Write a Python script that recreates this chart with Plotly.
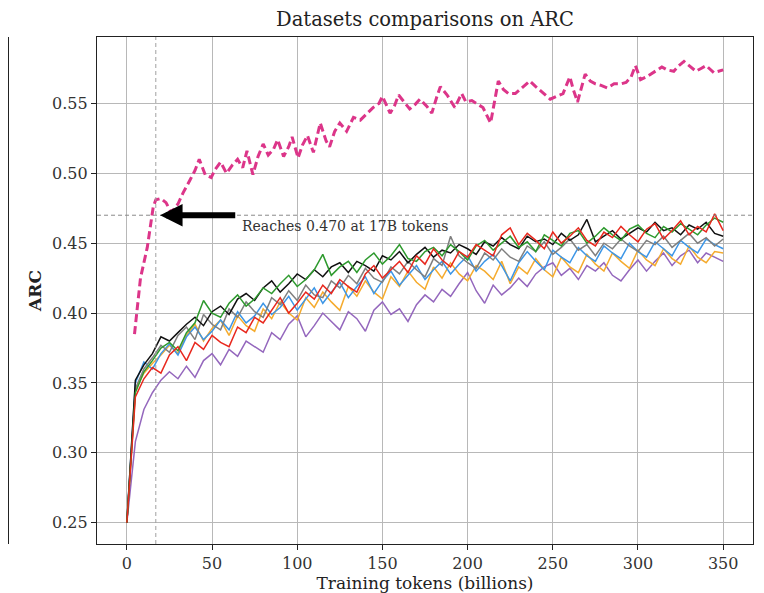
import plotly.graph_objects as go

# Evaluation points (billions of tokens) for the seven baseline runs
tokens = list(range(0, 351, 5))

arc_black = [0.250, 0.352, 0.363, 0.371, 0.383, 0.380, 0.386, 0.392, 0.397, 0.391, 0.401, 0.405, 0.399, 0.410, 0.414,
             0.409, 0.418, 0.423, 0.415, 0.421, 0.428, 0.424, 0.431, 0.426, 0.433, 0.436, 0.429, 0.437, 0.434, 0.430,
             0.441, 0.438, 0.444, 0.436, 0.442, 0.447, 0.440, 0.445, 0.443, 0.449, 0.446, 0.442, 0.451, 0.448, 0.454,
             0.449, 0.446, 0.455, 0.451, 0.453, 0.449, 0.457, 0.452, 0.456, 0.467, 0.451, 0.455, 0.459, 0.453, 0.457,
             0.461, 0.458, 0.465, 0.459, 0.461, 0.456, 0.463, 0.460, 0.465, 0.457, 0.455]
arc_green = [0.250, 0.343, 0.358, 0.366, 0.375, 0.379, 0.373, 0.386, 0.393, 0.409, 0.400, 0.397, 0.407, 0.413, 0.405,
             0.410, 0.418, 0.414, 0.421, 0.427, 0.419, 0.424, 0.431, 0.442, 0.427, 0.433, 0.437, 0.429, 0.438, 0.443,
             0.435, 0.441, 0.449, 0.439, 0.437, 0.444, 0.447, 0.441, 0.449, 0.444, 0.438, 0.448, 0.452, 0.445, 0.450,
             0.455, 0.447, 0.451, 0.444, 0.456, 0.452, 0.448, 0.457, 0.459, 0.450, 0.455, 0.461, 0.456, 0.452, 0.460,
             0.463, 0.457, 0.454, 0.462, 0.458, 0.464, 0.460, 0.456, 0.463, 0.468, 0.465]
arc_red = [0.250, 0.340, 0.353, 0.361, 0.357, 0.370, 0.376, 0.366, 0.379, 0.374, 0.384, 0.379, 0.376, 0.390, 0.386,
           0.397, 0.393, 0.402, 0.411, 0.400, 0.407, 0.415, 0.410, 0.420, 0.414, 0.424, 0.419, 0.415, 0.428, 0.434,
           0.425, 0.431, 0.437, 0.429, 0.441, 0.435, 0.446, 0.438, 0.433, 0.444, 0.440, 0.449, 0.445, 0.441, 0.456,
           0.461, 0.449, 0.457, 0.452, 0.446, 0.458, 0.450, 0.455, 0.461, 0.452, 0.448, 0.458, 0.454, 0.462, 0.456,
           0.451, 0.460, 0.464, 0.453, 0.459, 0.466, 0.456, 0.462, 0.458, 0.471, 0.459]
arc_gray = [0.250, 0.346, 0.360, 0.368, 0.377, 0.372, 0.384, 0.390, 0.381, 0.399, 0.392, 0.388, 0.403, 0.397, 0.408,
            0.401, 0.397, 0.411, 0.406, 0.416, 0.409, 0.420, 0.413, 0.411, 0.423, 0.418, 0.427, 0.421, 0.432, 0.425,
            0.422, 0.433, 0.428, 0.437, 0.431, 0.426, 0.439, 0.434, 0.455, 0.441, 0.436, 0.432, 0.443, 0.438, 0.446,
            0.440, 0.437, 0.448, 0.444, 0.451, 0.442, 0.447, 0.453, 0.445, 0.449, 0.441, 0.450, 0.446, 0.453, 0.448,
            0.444, 0.452, 0.449, 0.455, 0.447, 0.452, 0.457, 0.450, 0.454, 0.448, 0.453]
arc_blue = [0.250, 0.350, 0.365, 0.360, 0.371, 0.378, 0.370, 0.383, 0.390, 0.381, 0.387, 0.395, 0.388, 0.401, 0.393,
            0.398, 0.407, 0.399, 0.404, 0.412, 0.402, 0.410, 0.418, 0.407, 0.415, 0.422, 0.411, 0.419, 0.426, 0.414,
            0.423, 0.430, 0.420, 0.427, 0.434, 0.424, 0.431, 0.437, 0.428, 0.435, 0.441, 0.430, 0.437, 0.442, 0.434,
            0.423, 0.436, 0.444, 0.437, 0.431, 0.445, 0.440, 0.436, 0.447, 0.441, 0.437, 0.448, 0.443, 0.439, 0.450,
            0.444, 0.440, 0.451, 0.446, 0.441, 0.452, 0.447, 0.443, 0.453, 0.449, 0.446]
arc_orange = [0.250, 0.345, 0.357, 0.364, 0.370, 0.377, 0.371, 0.384, 0.392, 0.380, 0.389, 0.395, 0.384, 0.398, 0.391,
              0.387, 0.403, 0.396, 0.408, 0.400, 0.395, 0.411, 0.404, 0.415, 0.408, 0.402, 0.419, 0.412, 0.423, 0.415,
              0.410, 0.426, 0.419, 0.430, 0.422, 0.417, 0.433, 0.425, 0.436, 0.428, 0.423, 0.434, 0.430, 0.424, 0.437,
              0.421, 0.433, 0.428, 0.439, 0.431, 0.426, 0.440, 0.433, 0.429, 0.442, 0.435, 0.430, 0.443, 0.437, 0.432,
              0.445, 0.438, 0.434, 0.446, 0.439, 0.435, 0.448, 0.440, 0.436, 0.444, 0.443]
arc_purple = [0.250, 0.308, 0.331, 0.343, 0.352, 0.358, 0.353, 0.362, 0.354, 0.366, 0.371, 0.363, 0.374, 0.369, 0.380,
              0.376, 0.372, 0.386, 0.381, 0.392, 0.398, 0.383, 0.391, 0.400, 0.394, 0.388, 0.401, 0.396, 0.387, 0.402,
              0.408, 0.399, 0.403, 0.394, 0.406, 0.413, 0.408, 0.417, 0.412, 0.421, 0.429, 0.416, 0.407, 0.420, 0.413,
              0.418, 0.425, 0.419, 0.428, 0.433, 0.436, 0.427, 0.432, 0.424, 0.434, 0.430, 0.436, 0.427, 0.423, 0.431,
              0.438, 0.430, 0.437, 0.443, 0.434, 0.441, 0.445, 0.436, 0.443, 0.440, 0.437]

# The highlighted (dashed) run, evaluated on its own schedule
pink_tokens = [4.5, 8, 12, 15.5, 17, 20, 23, 26, 30, 33, 37, 40, 42.5, 46, 49.5, 52, 55, 58.5, 62, 65, 68, 70.5,
               74, 77, 80, 83, 86, 88.5, 92, 95, 97, 100.5, 103, 106, 109.5, 113.5, 117, 119, 122, 125, 129, 133,
               137, 141, 144.5, 148, 150, 154.5, 157, 159.5, 163, 166, 169, 172, 176, 179, 182, 184, 188, 192.5,
               196.5, 199, 202.5, 206, 209, 213.5, 216, 218, 221, 224, 228, 231, 236.5, 240, 244.5, 248.5, 252,
               256, 260, 262, 264.5, 267, 269, 272, 275, 278, 282, 286, 290, 293, 296, 298.5, 301.5, 305, 309,
               314, 317, 321, 324, 327, 330, 334, 337, 340, 344.5, 347, 350]
pink_arc = [0.385, 0.425, 0.447, 0.476, 0.481, 0.482, 0.479, 0.472, 0.478, 0.486, 0.495, 0.502, 0.510, 0.499,
            0.497, 0.503, 0.508, 0.500, 0.506, 0.510, 0.504, 0.516, 0.499, 0.512, 0.521, 0.513, 0.517, 0.524,
            0.512, 0.519, 0.526, 0.511, 0.520, 0.527, 0.515, 0.536, 0.523, 0.519, 0.530, 0.536, 0.530, 0.540,
            0.538, 0.543, 0.547, 0.550, 0.555, 0.543, 0.548, 0.556, 0.551, 0.546, 0.549, 0.553, 0.548, 0.543,
            0.555, 0.562, 0.556, 0.547, 0.557, 0.551, 0.552, 0.549, 0.547, 0.536, 0.553, 0.566, 0.560, 0.557,
            0.557, 0.560, 0.566, 0.562, 0.557, 0.553, 0.555, 0.557, 0.569, 0.560, 0.551, 0.563, 0.571, 0.566,
            0.564, 0.563, 0.561, 0.564, 0.564, 0.565, 0.569, 0.577, 0.567, 0.569, 0.572, 0.576, 0.574, 0.573,
            0.577, 0.580, 0.577, 0.573, 0.575, 0.577, 0.572, 0.573, 0.574]

threshold = 0.470
reach_tokens = 17

SERIF = "DejaVu Serif"

fig = go.Figure()

runs = [
    (arc_purple, "#9467bd"),
    (arc_orange, "#f5ab2e"),
    (arc_blue, "#3d96e6"),
    (arc_gray, "#7f7f7f"),
    (arc_black, "#111111"),
    (arc_green, "#2e9a2e"),
    (arc_red, "#e8281e"),
]
for vals, col in runs:
    fig.add_trace(go.Scatter(x=tokens, y=vals, mode="lines",
                             line=dict(color=col, width=1.5), showlegend=False))

fig.add_trace(go.Scatter(x=pink_tokens, y=pink_arc, mode="lines",
                         line=dict(color="#dc3589", width=3, dash="8px,4px"),
                         showlegend=False))

# reference lines
fig.add_hline(y=threshold, line=dict(color="#8a8a8a", width=1, dash="4px,3px"))
fig.add_vline(x=reach_tokens, line=dict(color="#a0a0a0", width=1, dash="4px,3px"))

# arrow + label
fig.add_annotation(x=19.5, y=threshold, ax=64.5, ay=threshold, xref="x", yref="y",
                   axref="x", ayref="y", text="", showarrow=True,
                   arrowhead=2, arrowsize=0.75, arrowwidth=6, arrowcolor="black")
fig.add_annotation(x=66.5, y=threshold - 0.0078, xref="x", yref="y", text="Reaches 0.470 at 17B tokens",
                   showarrow=False, xanchor="left", yanchor="middle",
                   font=dict(family=SERIF, size=14, color="#333333"))

# sliver of the neighbouring panel on the far left
fig.add_trace(go.Scatter(x=[0], y=[0], mode="markers", marker=dict(opacity=0),
                         xaxis="x2", yaxis="y2", showlegend=False, hoverinfo="skip"))

# the page body has an 8px margin, so the figure is 8px smaller than the window
fig.update_layout(
    width=756, height=585,
    margin=dict(l=0, r=11, t=29, b=49),
    paper_bgcolor="white", plot_bgcolor="white",
    title=dict(text="Datasets comparisons on ARC", x=0.5516, xanchor="center", y=0.9805, yanchor="middle",
               font=dict(family=SERIF, size=19.5, color="#222222")),
    xaxis=dict(domain=[0.1195, 1.0], range=[-17.5, 367.5], tickvals=[0, 50, 100, 150, 200, 250, 300, 350],
               showgrid=True, gridcolor="#b8b8b8", gridwidth=1, zeroline=False,
               showline=True, linecolor="#222222", linewidth=1.3, mirror=True,
               ticks="outside", ticklen=5, tickcolor="#222222",
               tickfont=dict(family=SERIF, size=16, color="#333333"),
               title=dict(text="Training tokens (billions)", standoff=4,
                          font=dict(family=SERIF, size=17, color="#222222"))),
    yaxis=dict(range=[0.2348, 0.5975], tickvals=[0.25, 0.30, 0.35, 0.40, 0.45, 0.50, 0.55],
               ticktext=["0.25", "0.30", "0.35", "0.40", "0.45", "0.50", "0.55"],
               showgrid=True, gridcolor="#b8b8b8", gridwidth=1, zeroline=False,
               showline=True, linecolor="#222222", linewidth=1.3, mirror=True,
               ticks="outside", ticklen=5, tickcolor="#222222",
               tickfont=dict(family=SERIF, size=16, color="#333333"),
               title=dict(text="<b>ARC</b>", standoff=6,
                          font=dict(family=SERIF, size=17, color="#222222"))),
    xaxis2=dict(domain=[0.0, 0.0006], anchor="y2", range=[0, 1], showgrid=False, zeroline=False,
                showticklabels=False, showline=False),
    yaxis2=dict(domain=[0, 1], anchor="x2", side="right", range=[0, 7.04], showgrid=False,
                showticklabels=False, zeroline=False, showline=True, linecolor="#222222",
                linewidth=1.3, mirror=False),
)

fig.write_html("out.html")
